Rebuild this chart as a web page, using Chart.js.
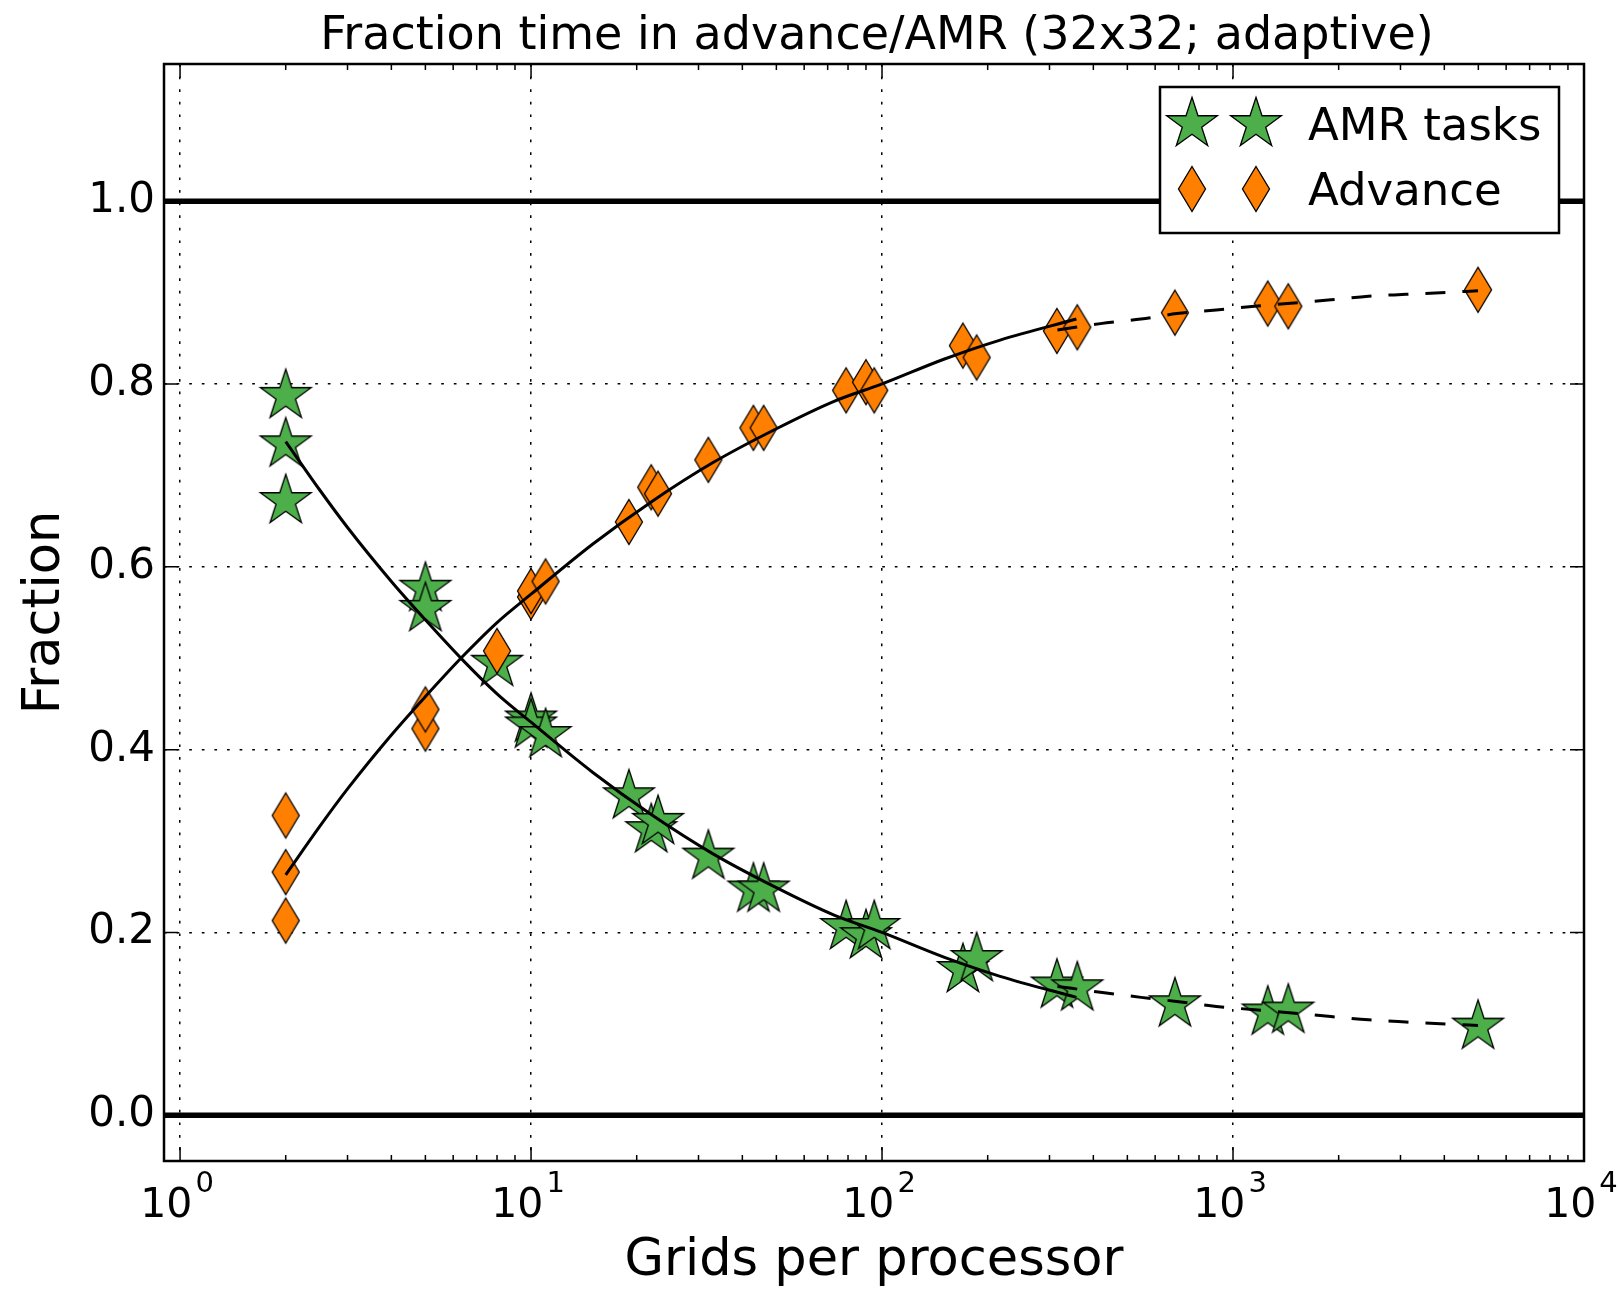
<!DOCTYPE html>
<html><head><meta charset="utf-8">
<script src="https://cdn.jsdelivr.net/npm/chart.js@4.4.0/dist/chart.umd.min.js"></script>
<style>html,body{margin:0;padding:0;background:#fff;}canvas{display:block;}</style>
</head><body>
<canvas id="c" width="1618" height="1289"></canvas>
<script>
// ---- data ----
const pointX = [2, 2, 2, 5, 5, 8, 10, 10, 11, 19, 22, 23, 32, 43, 46, 79, 90, 95, 170, 186, 315, 360, 683, 1256, 1437, 4990];
const amrValues = [0.787, 0.734, 0.672, 0.576, 0.554, 0.494, 0.433, 0.4265, 0.416, 0.349, 0.312, 0.321, 0.283, 0.247, 0.247, 0.206, 0.196, 0.206, 0.159, 0.171, 0.142, 0.139, 0.1215, 0.1125, 0.1146, 0.097];
const advanceValues = [0.213, 0.266, 0.328, 0.423, 0.444, 0.508, 0.567, 0.5735, 0.584, 0.649, 0.687, 0.680, 0.717, 0.752, 0.752, 0.793, 0.802, 0.793, 0.842, 0.829, 0.858, 0.862, 0.878, 0.888, 0.885, 0.903];

const fitSolidX = [2, 2.5, 3, 4, 5, 6.35, 8, 10, 15, 22, 33, 50, 73, 100, 150, 217, 358];
const fitSolidAmr = [0.737, 0.684, 0.643, 0.584, 0.542, 0.499, 0.461, 0.430, 0.375, 0.329, 0.286, 0.249, 0.219, 0.200, 0.173, 0.152, 0.129];
const fitSolidAdvance = [0.263, 0.316, 0.357, 0.416, 0.458, 0.501, 0.539, 0.570, 0.625, 0.671, 0.714, 0.751, 0.781, 0.800, 0.827, 0.848, 0.871];

const fitDashX = [316, 419, 547, 692, 896, 1152, 1901, 2432, 3110, 4036, 4990];
const fitDashAmr = [0.141, 0.1346, 0.129, 0.1245, 0.119, 0.1155, 0.108, 0.1044, 0.102, 0.0998, 0.0983];
const fitDashAdvance = [0.859, 0.866, 0.871, 0.877, 0.881, 0.885, 0.892, 0.896, 0.898, 0.900, 0.902];

const xTickValues = [1, 10, 100, 1000, 10000];
const yTickValues = [0.0, 0.2, 0.4, 0.6, 0.8, 1.0];
const refLineValues = [0, 1];
const seriesNames = ['AMR tasks', 'Advance'];
const titleText = 'Fraction time in advance/AMR (32x32; adaptive)';
const xLabel = 'Grids per processor';
const yLabel = 'Fraction';

// ---- styles ----
const FONT = "'DejaVu Sans', sans-serif";
const GREEN = '#4daf4a';
const ORANGE = '#ff7f00';

function makeStar(R, fill, stroke, lw) {
  const r = R * 0.381966;
  const size = Math.ceil(2 * R + 2 * lw + 4) & ~1;
  const c = document.createElement('canvas');
  c.width = size; c.height = size;
  const g = c.getContext('2d');
  const cx = size / 2, cy = size / 2;
  g.beginPath();
  for (let i = 0; i < 10; i++) {
    const a = -Math.PI / 2 + i * Math.PI / 5;
    const rad = (i % 2 === 0) ? R : r;
    g.lineTo(cx + rad * Math.cos(a), cy + rad * Math.sin(a));
  }
  g.closePath();
  g.fillStyle = fill; g.fill();
  g.lineWidth = lw; g.strokeStyle = stroke; g.lineJoin = 'miter'; g.stroke();
  return c;
}
function makeDiamond(hw, hh, fill, stroke, lw) {
  const w = Math.ceil(2 * hw + 2 * lw + 4) & ~1;
  const h = Math.ceil(2 * hh + 2 * lw + 4) & ~1;
  const c = document.createElement('canvas');
  c.width = w; c.height = h;
  const g = c.getContext('2d');
  const cx = w / 2, cy = h / 2;
  g.beginPath();
  g.moveTo(cx, cy - hh); g.lineTo(cx + hw, cy); g.lineTo(cx, cy + hh); g.lineTo(cx - hw, cy);
  g.closePath();
  g.fillStyle = fill; g.fill();
  g.lineWidth = lw; g.strokeStyle = stroke; g.lineJoin = 'miter'; g.stroke();
  return c;
}
const starImg = makeStar(26.7, GREEN, '#000', 1.3);
const diamondImg = makeDiamond(13.5, 22.5, ORANGE, '#000', 1.3);

const zip = (xs, ys) => xs.map((x, i) => ({x: x, y: ys[i]}));

const decor = {
  id: 'decor',
  beforeDatasetsDraw(chart) {
    const {ctx, chartArea: a, scales: {y}} = chart;
    ctx.save();
    ctx.strokeStyle = '#000'; ctx.lineWidth = 5.5;
    refLineValues.forEach(v => {
      const py = y.getPixelForValue(v);
      ctx.beginPath(); ctx.moveTo(a.left, py); ctx.lineTo(a.right, py); ctx.stroke();
    });
    ctx.restore();
  },
  afterDatasetsDraw(chart) {
    const {ctx, chartArea: a, scales: {x, y}} = chart;
    ctx.save();
    // inward ticks
    ctx.strokeStyle = '#000'; ctx.lineWidth = 1.5;
    const vtick = (px, len) => {
      ctx.beginPath();
      ctx.moveTo(px, a.bottom); ctx.lineTo(px, a.bottom - len);
      ctx.moveTo(px, a.top); ctx.lineTo(px, a.top + len);
      ctx.stroke();
    };
    xTickValues.forEach(v => vtick(x.getPixelForValue(v), 14));
    for (let d = 0; d < 4; d++) {
      for (let m = 2; m <= 9; m++) vtick(x.getPixelForValue(m * Math.pow(10, d)), 6);
    }
    yTickValues.forEach(v => {
      const py = y.getPixelForValue(v);
      ctx.beginPath();
      ctx.moveTo(a.left, py); ctx.lineTo(a.left + 14, py);
      ctx.moveTo(a.right, py); ctx.lineTo(a.right - 14, py);
      ctx.stroke();
    });
    // frame
    ctx.lineWidth = 2.5;
    ctx.strokeRect(a.left, a.top, a.right - a.left, a.bottom - a.top);
    // x tick labels: 10 with raised exponent
    ctx.fillStyle = '#000';
    ctx.textAlign = 'left'; ctx.textBaseline = 'alphabetic';
    xTickValues.forEach(v => {
      const px = x.getPixelForValue(v);
      const exp = String(Math.round(Math.log10(v)));
      ctx.font = '41px ' + FONT; const w1 = ctx.measureText('10').width;
      ctx.font = '29px ' + FONT; const w2 = ctx.measureText(exp).width;
      const start = px - 3 - (w1 + 3 + w2) / 2;
      ctx.font = '41px ' + FONT; ctx.fillText('10', start, 1216.5);
      ctx.font = '29px ' + FONT; ctx.fillText(exp, start + w1 + 3, 1191.5);
    });
    // legend
    ctx.fillStyle = '#fff';
    ctx.fillRect(1160, 87, 399, 146);
    ctx.lineWidth = 2.5; ctx.strokeStyle = '#000';
    ctx.strokeRect(1160, 87, 399, 146);
    const rows = [{img: starImg, cy: 123.5, base: 139.5}, {img: diamondImg, cy: 188.5, base: 205}];
    rows.forEach((r, i) => {
      [1192, 1256].forEach(cx => ctx.drawImage(r.img, Math.round(cx - r.img.width / 2), Math.round(r.cy - r.img.height / 2)));
      ctx.fillStyle = '#000';
      ctx.font = '45px ' + FONT;
      ctx.textAlign = 'left'; ctx.textBaseline = 'alphabetic';
      ctx.fillText(seriesNames[i], 1308, r.base);
    });
    // title
    ctx.font = '46px ' + FONT;
    ctx.textAlign = 'center'; ctx.textBaseline = 'alphabetic';
    ctx.fillStyle = '#000';
    ctx.fillText(titleText, (a.left + a.right) / 2 + 3, 49);
    ctx.restore();
  }
};

const lineBase = {type: 'line', borderColor: '#000', borderWidth: 3, pointRadius: 0, fill: false, cubicInterpolationMode: 'monotone', order: 0};

new Chart(document.getElementById('c').getContext('2d'), {
  type: 'scatter',
  data: {
    datasets: [
      Object.assign({label: 'fit AMR', data: zip(fitSolidX, fitSolidAmr)}, lineBase),
      Object.assign({label: 'fit Advance', data: zip(fitSolidX, fitSolidAdvance)}, lineBase),
      Object.assign({label: 'fit AMR (ext)', data: zip(fitDashX, fitDashAmr), borderDash: [20, 17]}, lineBase),
      Object.assign({label: 'fit Advance (ext)', data: zip(fitDashX, fitDashAdvance), borderDash: [20, 17]}, lineBase),
      {label: seriesNames[1], data: zip(pointX, advanceValues), pointStyle: diamondImg, pointRadius: 20, order: 1},
      {label: seriesNames[0], data: zip(pointX, amrValues), pointStyle: starImg, pointRadius: 20, order: 2}
    ]
  },
  options: {
    responsive: false,
    devicePixelRatio: 1,
    animation: false,
    events: [],
    layout: {padding: {top: 64, right: 34, left: 0, bottom: 0}},
    plugins: {legend: {display: false}, tooltip: {enabled: false}, title: {display: false}},
    scales: {
      x: {
        type: 'logarithmic', position: 'bottom', min: 0.9, max: 10000,
        afterBuildTicks: s => { s.ticks = xTickValues.map(v => ({value: v, major: true})); },
        afterFit: s => { s.height = 128; s.paddingLeft = 0; s.paddingRight = 0; },
        grid: {color: '#000', lineWidth: 1.5, drawTicks: false},
        border: {display: false, dash: [2.7, 9.9]},
        ticks: {display: false},
        title: {display: true, text: xLabel, color: '#000', font: {family: FONT, size: 51, lineHeight: 1}, padding: {top: 0, bottom: 2}}
      },
      y: {
        type: 'linear', position: 'left', min: -0.05, max: 1.15,
        afterBuildTicks: s => { s.ticks = yTickValues.map(v => ({value: v})); },
        afterFit: s => { s.width = 164; s.paddingTop = 0; s.paddingBottom = 0; },
        grid: {color: '#000', lineWidth: 1.5, drawTicks: false},
        border: {display: false, dash: [2.7, 9.9]},
        ticks: {padding: 9, color: '#000', font: {family: FONT, size: 42}, callback: v => Number(v).toFixed(1)},
        title: {display: true, text: yLabel, color: '#000', font: {family: FONT, size: 51, lineHeight: 1}, padding: {top: 20, bottom: 0}}
      }
    }
  },
  plugins: [decor]
});
</script>
</body></html>
